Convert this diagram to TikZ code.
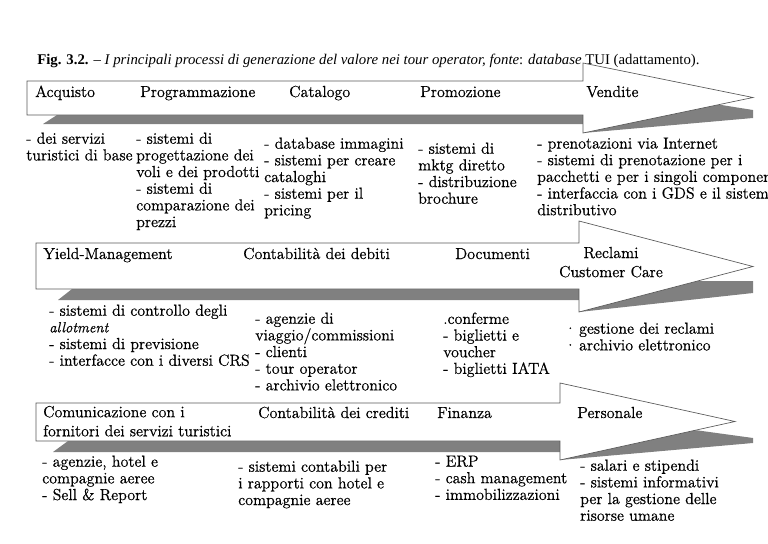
\documentclass[tikz,border=0pt]{standalone}
\usepackage{fontspec}
\setmainfont{lmroman12-regular.otf}[ItalicFont=lmroman12-italic.otf,
  BoldFont=lmroman12-bold.otf, FakeBold=0.6]
\newfontfamily\capfont{Liberation Serif}
\usetikzlibrary{positioning}

\newcommand{\mainsz}{\fontsize{12}{12.5}\selectfont}
\newcommand{\twosz}{\fontsize{12}{14.3}\selectfont}

\begin{document}
\begin{tikzpicture}[
  x=0.75pt, y=-0.75pt,
  hdr/.style={anchor=base west, inner sep=0pt, font=\mainsz},
  hdrtwo/.style={anchor=north west, yshift=10pt, inner sep=0pt, font=\twosz,
    execute at begin node=\strut},
  lst/.style={anchor=north west, yshift=8.75pt, inner sep=0pt, align=left,
    font=\mainsz, execute at begin node=\strut},
  freccia/.style={draw=black!65, line width=0.5pt, fill=white},
  spessore/.style={fill=black!50, draw=none}
]
\useasboundingbox (0,0) rectangle (768,543);

% prima freccia
\fill[spessore] (43,124) -- (57,115) -- (583,115) -- (583,100) -- (690,100)
  -- (753,110) -- (753,118) -- (583,133) -- (583,124) -- cycle;
\path[freccia] (27,81) -- (583,81) -- (583,63) -- (753,97.5) -- (583,133)
  -- (583,115) -- (27,115) -- cycle;

% seconda freccia
\fill[spessore] (58,300) -- (72,289) -- (579,289) -- (579,270) -- (695,281)
  -- (753,281) -- (753,293) -- (579,312) -- (579,300) -- cycle;
\path[freccia] (36,243) -- (579,243) -- (579,221) -- (753,266.5) -- (579,312)
  -- (579,289) -- (36,289) -- cycle;

% terza freccia
\fill[spessore] (53,452) -- (68,441) -- (560,441) -- (560,425) -- (697,430.3)
  -- (753,438) -- (753,443) -- (560,460) -- (560,452) -- cycle;
\path[freccia] (36,403) -- (560,403) -- (560,383) -- (735,421.5) -- (560,460)
  -- (560,441) -- (36,441) -- cycle;

% didascalia
\node[anchor=base west, inner sep=0pt, font=\capfont\fontsize{11.1}{13}\selectfont] (cap) at (37,64)
  {\textbf{Fig. 3.2.} – \textit{I principali processi di generazione del valore nei tour operator, fonte}: \textit{database} TUI (adattamento).};

% riga 1
\node[hdr] (acq) at (35,97) {Acquisto};
\node[hdr] (prog) at (140,97) {Programmazione};
\node[hdr] (cat) at (289,97) {Catalogo};
\node[hdr] (prom) at (420,97) {Promozione};
\node[hdr] (vend) at (586,97) {Vendite};

\node[lst] (acqL) at (26,144) {- dei servizi\\turistici di base};
\node[lst] (progL) at (136,144) {- sistemi di\\progettazione dei\\voli e dei prodotti\\- sistemi di\\comparazione dei\\prezzi};
\node[lst] (catL) at (264,149) {- database immagini\\- sistemi per creare\\cataloghi\\- sistemi per il\\pricing};
\node[lst] (promL) at (418,154) {- sistemi di\\mktg diretto\\- distribuzione\\brochure};
\node[lst] (vendL) at (537,149) {- prenotazioni via Internet\\- sistemi di prenotazione per i\\pacchetti e per i singoli componenti\\- interfaccia con i GDS e il sistema\\distributivo};

% riga 2
\node[hdr] (yield) at (43,259) {Yield-Management};
\node[hdr] (debiti) at (243,259) {Contabilità dei debiti};
\node[hdr] (doc) at (455,259) {Documenti};
\node[hdrtwo, align=center, anchor=north] (recl) at (611,260) {Reclami\\Customer Care};

\node[lst] (yieldL) at (49,316) {- sistemi di controllo degli\\{\fontsize{11}{12.5}\itshape allotment}\\- sistemi di previsione\\- interfacce con i diversi CRS};
\node[lst] (debitiL) at (255,324) {- agenzie di\\viaggio/commissioni\\- clienti\\- tour operator\\- archivio elettronico};
\node[lst] (docL) at (443,324) {.conferme\\- biglietti e\\voucher\\- biglietti IATA};
\node[lst] (reclL) at (564,334) {·\,gestione dei reclami\\·\,archivio elettronico};

% riga 3
\node[hdrtwo, align=left] (forn) at (43,419) {Comunicazione con i\\fornitori dei servizi turistici};
\node[hdr] (crediti) at (258,418) {Contabilità dei crediti};
\node[hdr] (fin) at (437,418) {Finanza};
\node[hdr] (pers) at (577,418) {Personale};

\node[lst] (fornL) at (42,467) {- agenzie, hotel e\\compagnie aeree\\- Sell \& Report};
\node[lst] (creditiL) at (238,472) {- sistemi contabili per\\i rapporti con hotel e\\compagnie aeree};
\node[lst] (finL) at (435,467) {- ERP\\- cash management\\- immobilizzazioni};
\node[lst] (persL) at (580,471) {- salari e stipendi\\- sistemi informativi\\per la gestione delle\\risorse umane};
\end{tikzpicture}
\end{document}
